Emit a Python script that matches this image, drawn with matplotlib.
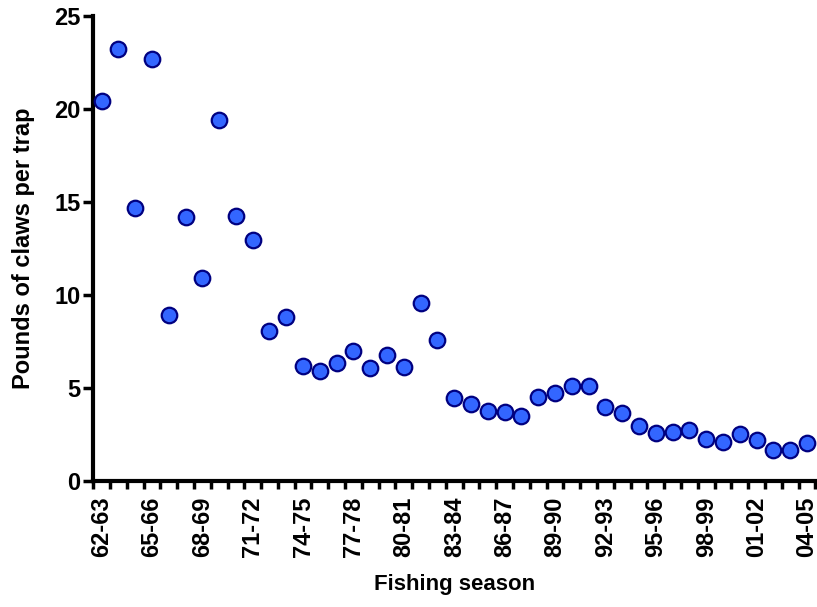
import numpy as np
import matplotlib
matplotlib.use('Agg')
import matplotlib.pyplot as plt

plt.rcParams['font.family'] = ['Liberation Sans', 'DejaVu Sans']

SEASONS = ['62-63', '63-64', '64-65', '65-66', '66-67', '67-68', '68-69', '69-70',
           '70-71', '71-72', '72-73', '73-74', '74-75', '75-76', '76-77', '77-78',
           '78-79', '79-80', '80-81', '81-82', '82-83', '83-84', '84-85', '85-86',
           '86-87', '87-88', '88-89', '89-90', '90-91', '91-92', '92-93', '93-94',
           '94-95', '95-96', '96-97', '97-98', '98-99', '99-00', '00-01', '01-02',
           '02-03', '03-04', '04-05']
CLAWS_PER_TRAP = [20.45, 23.2, 14.7, 22.7, 8.95, 14.2, 10.9, 19.4, 14.25, 12.95,
                  8.1, 8.8, 6.2, 5.9, 6.35, 7.0, 6.1, 6.8, 6.15, 9.6,
                  7.6, 4.5, 4.15, 3.8, 3.75, 3.5, 4.55, 4.75, 5.1, 5.1,
                  4.0, 3.65, 2.95, 2.6, 2.65, 2.75, 2.3, 2.1, 2.55, 2.2,
                  1.7, 1.7, 2.05]

fig = plt.figure(figsize=(8.17, 6.07), dpi=100)
ax = fig.add_axes([0.114, 0.207, 0.884, 0.767])

x = np.arange(len(SEASONS))
ax.scatter(x, CLAWS_PER_TRAP, s=125, color='#3366FF', edgecolors='#000080',
           linewidths=1.6, zorder=3, clip_on=False)

ax.set_xlim(-0.5, len(SEASONS) - 0.5)
ax.set_ylim(0, 25)
ax.set_yticks([0, 5, 10, 15, 20, 25])

# labels every third season, ticks at category boundaries
ax.set_xticks(x[::3])
ax.set_xticklabels(SEASONS[::3], rotation=90, fontsize=17, fontweight='bold')
ax.set_xticks(np.arange(-0.5, len(SEASONS)), minor=True)
ax.tick_params(axis='x', which='major', length=0, pad=11)
ax.tick_params(axis='x', which='minor', length=6, width=2.5, direction='out')
ax.tick_params(axis='y', length=7, width=2.5, direction='out', labelsize=17, pad=2)
for lab in ax.get_yticklabels():
    lab.set_fontweight('bold')

for side in ['top', 'right']:
    ax.spines[side].set_visible(False)
for side in ['left', 'bottom']:
    ax.spines[side].set_linewidth(3)

ax.set_xlabel('Fishing season', fontsize=16, fontweight='bold', labelpad=12)
ax.set_ylabel('Pounds of claws per trap', fontsize=17, fontweight='bold', labelpad=14)

fig.savefig('out.png', dpi=100)
